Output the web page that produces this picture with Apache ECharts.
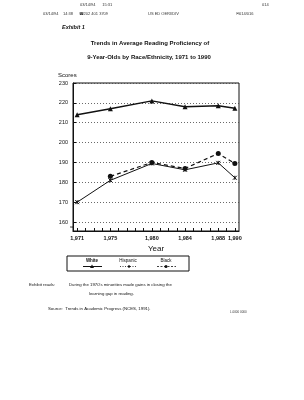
<!DOCTYPE html>
<html>
<head>
<meta charset="utf-8">
<script src="https://cdn.jsdelivr.net/npm/echarts@6/dist/echarts.min.js"></script>
<style>
  html, body { margin: 0; padding: 0; background: #fff; }
  #chart { width: 304px; height: 400px; }
</style>
</head>
<body>
<div id="chart"></div>
<script>
var years = [1971, 1975, 1980, 1984, 1988, 1990];
var white = [214, 217, 221, 218, 218.5, 217.3];
var hispanic = [null, 183, 190, 187, 194.5, 189.5];
var black = [170, 181, 189.5, 186.3, 189.8, 182.3];
var seriesNames = ['White', 'Hispanic', 'Black'];
var yTicks = [160, 170, 180, 190, 200, 210, 220, 230];
var xLabels = [1971, 1975, 1980, 1984, 1988, 1990];
var xMinorTicks = [1971, 1972, 1973, 1974, 1975, 1976, 1977, 1978, 1979, 1980,
  1981, 1982, 1983, 1984, 1985, 1986, 1987, 1988, 1989, 1990];

var font = 'Liberation Sans, Arial, sans-serif';
var ink = '#111';

function pairs(vals) {
  return years.map(function (y, i) { return [y, vals[i]]; });
}

var xMark = 'path://M0,0L10,10M10,0L0,10M5,0L5,10';

var chart = echarts.init(document.getElementById('chart'));
chart.setOption({
  animation: false,
  textStyle: { fontFamily: font, color: ink },
  grid: {
    left: 73, right: 65, top: 83, bottom: 169,
    show: true, borderColor: ink, borderWidth: 1
  },
  xAxis: {
    type: 'value', min: 1970.5, max: 1990.5,
    axisLine: { lineStyle: { color: ink, width: 1.2 } },
    axisTick: { inside: true, length: 3, customValues: xMinorTicks, lineStyle: { color: ink } },
    axisLabel: { customValues: xLabels, fontSize: 5.5, fontWeight: 'bold', color: ink, margin: 4 },
    splitLine: { show: false },
    name: 'Year', nameLocation: 'middle', nameGap: 14,
    nameTextStyle: { fontSize: 8, color: ink }
  },
  yAxis: {
    type: 'value', min: 155.5, max: 230,
    axisLine: { show: true, lineStyle: { color: ink, width: 1 } },
    axisTick: { show: true, inside: true, length: 3, customValues: yTicks, lineStyle: { color: ink } },
    axisLabel: { customValues: yTicks, fontSize: 5.5, color: ink, margin: 5 },
    splitLine: { show: true, lineStyle: { color: '#444', width: 0.8, type: [1, 2] } }
  },
  series: [
    {
      name: seriesNames[0], type: 'line', data: pairs(white),
      symbol: 'triangle', symbolSize: 5,
      lineStyle: { color: ink, width: 1.5 }, itemStyle: { color: ink }
    },
    {
      name: seriesNames[1], type: 'line', data: pairs(hispanic),
      symbol: 'circle', symbolSize: 5,
      lineStyle: { color: ink, width: 1.2, type: [4, 3] }, itemStyle: { color: ink }
    },
    {
      name: seriesNames[2], type: 'line', data: pairs(black),
      symbol: xMark, symbolSize: 4,
      lineStyle: { color: ink, width: 1 }, itemStyle: { color: ink, borderColor: ink, borderWidth: 1 }
    }
  ],
  graphic: [
    // fax header
    { type: 'text', left: 80, top: 3, style: { text: '03/14/94      15:31', fontSize: 4, fill: '#333', fontFamily: font } },
    { type: 'text', left: 262, top: 3, style: { text: '014', fontSize: 4, fill: '#333', fontFamily: font } },
    { type: 'text', left: 43, top: 12, style: { text: '03/14/94    14:38     \u260e202 401 3709', fontSize: 4, fill: '#333', fontFamily: font } },
    { type: 'text', left: 148, top: 12, style: { text: 'US ED OERI/DIV', fontSize: 4, fill: '#333', fontFamily: font } },
    { type: 'text', left: 236, top: 12, style: { text: '\u2709014/016', fontSize: 4, fill: '#333', fontFamily: font } },
    { type: 'text', left: 62, top: 24, style: { text: 'Exhibit 1', fontSize: 5.5, fontWeight: 'bold', fontStyle: 'italic', fill: ink, fontFamily: font } },
    // title
    { type: 'text', x: 150, y: 40, style: { text: 'Trends in Average Reading Proficiency of', fontSize: 6, fontWeight: 'bold', fill: ink, align: 'center', fontFamily: font } },
    { type: 'text', x: 149, y: 54, style: { text: '9-Year-Olds by Race/Ethnicity, 1971 to 1990', fontSize: 6, fontWeight: 'bold', fill: ink, align: 'center', fontFamily: font } },
    { type: 'text', left: 58, top: 72, style: { text: 'Scores', fontSize: 6, fill: ink, fontFamily: font } },
    // axis break mark
    { type: 'text', x: 70, y: 224, style: { text: '\u2248', fontSize: 6, fill: ink, fontFamily: font } },
    // legend box
    { type: 'rect', shape: { x: 67, y: 256, width: 122, height: 15 }, style: { fill: 'none', stroke: ink, lineWidth: 1 } },
    { type: 'text', x: 92, y: 258, style: { text: seriesNames[0], fontSize: 4.5, fontWeight: 'bold', fill: ink, align: 'center', fontFamily: font } },
    { type: 'line', shape: { x1: 83, y1: 266.5, x2: 102, y2: 266.5 }, style: { stroke: ink, lineWidth: 1 } },
    { type: 'polygon', shape: { points: [[92, 264.5], [94, 268], [90, 268]] }, style: { fill: ink } },
    { type: 'text', x: 128, y: 258, style: { text: seriesNames[1], fontSize: 4.5, fill: ink, align: 'center', fontFamily: font } },
    { type: 'line', shape: { x1: 120, y1: 266.5, x2: 137, y2: 266.5 }, style: { stroke: ink, lineWidth: 0.8, lineDash: [1, 1.5] } },
    { type: 'circle', shape: { cx: 129, cy: 266.5, r: 1.2 }, style: { fill: ink } },
    { type: 'text', x: 166, y: 258, style: { text: seriesNames[2], fontSize: 4.5, fill: ink, align: 'center', fontFamily: font } },
    { type: 'line', shape: { x1: 157, y1: 266.5, x2: 176, y2: 266.5 }, style: { stroke: ink, lineWidth: 0.8, lineDash: [2, 1.5] } },
    { type: 'circle', shape: { cx: 166, cy: 266.5, r: 1.5 }, style: { fill: ink } },
    // notes
    { type: 'text', left: 29, top: 283, style: { text: 'Exhibit reads:', fontSize: 4.3, fill: ink, fontFamily: font } },
    { type: 'text', left: 69, top: 283, style: { text: "During the 1970's minorities made gains in closing the", fontSize: 4.3, fill: ink, fontFamily: font } },
    { type: 'text', left: 89, top: 292, style: { text: 'learning gap in reading.', fontSize: 4.3, fill: ink, fontFamily: font } },
    { type: 'text', left: 48, top: 307, style: { text: 'Source:  Trends in Academic Progress (NCES, 1991).', fontSize: 4.3, fill: ink, fontFamily: font } },
    { type: 'text', left: 230, top: 311, style: { text: 'L.0000 0000', fontSize: 3, fill: '#333', fontFamily: font } }
  ]
});
</script>
</body>
</html>
